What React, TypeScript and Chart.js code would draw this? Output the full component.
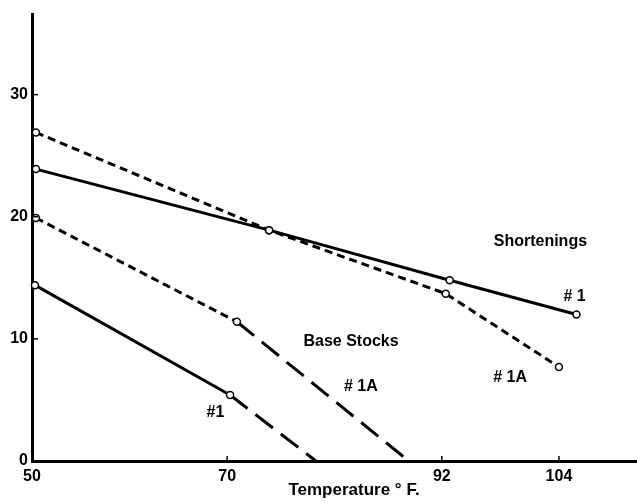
import React, { useEffect, useRef } from "react";
import { Chart, registerables } from "chart.js";

Chart.register(...registerables);

const xTickValues = [50, 70, 92, 104];
const yTickValues = [0, 10, 20, 30];

const shortening1X = [50.4, 74.3, 92.8, 105.8];
const shortening1Y = [23.9, 18.9, 14.8, 12.0];

const shortening1AX = [50.4, 74.3, 92.4, 104.0];
const shortening1AY = [26.9, 18.9, 13.7, 7.7];

const base1AX = [50.4, 71.0, 88.6];
const base1AY = [19.9, 11.4, 0];

const base1X = [50.3, 70.3, 79.1];
const base1Y = [14.4, 5.4, 0];

const annotationTexts = ["Shortenings", "# 1", "# 1A", "Base Stocks", "# 1A", "#1"];
const annotationX = [102.1, 105.6, 99.0, 82.7, 83.7, 68.8];
const annotationY = [17.95, 13.5, 6.8, 9.8, 6.1, 4.0];

const xTitle = "Temperature ° F.";
const xTitleCenter = 83.0;

const FONT = "'Liberation Sans', Arial, sans-serif";

const toPoints = (xs: number[], ys: number[]) => xs.map((x, i) => ({ x, y: ys[i] }));

export default function App() {
  const ref = useRef<HTMLCanvasElement | null>(null);

  useEffect(() => {
    document.body.style.margin = "0";
    if (!ref.current) return;

    const tickMarks = {
      id: "tickMarks",
      afterDraw(chart: any) {
        const { ctx, scales } = chart;
        const xs = scales.x;
        const ys = scales.y;
        ctx.save();
        ctx.strokeStyle = "#000";
        ctx.lineWidth = 1.5;
        xTickValues.forEach((v) => {
          const px = xs.getPixelForValue(v);
          if (v === xTickValues[0]) return;
          ctx.beginPath();
          ctx.moveTo(px, ys.bottom);
          ctx.lineTo(px, ys.bottom - 5);
          ctx.stroke();
        });
        yTickValues.forEach((v) => {
          if (v === 0) return;
          const py = ys.getPixelForValue(v);
          ctx.beginPath();
          ctx.moveTo(xs.left, py);
          ctx.lineTo(xs.left + 6, py);
          ctx.stroke();
        });
        ctx.fillStyle = "#000";
        ctx.font = `bold 16px ${FONT}`;
        ctx.textAlign = "center";
        ctx.textBaseline = "middle";
        annotationTexts.forEach((t, i) => {
          ctx.fillText(t, xs.getPixelForValue(annotationX[i]), ys.getPixelForValue(annotationY[i]));
        });
        ctx.font = `bold 17px ${FONT}`;
        ctx.fillText(xTitle, xs.getPixelForValue(xTitleCenter), xs.bottom - 14);
        ctx.restore();
      },
    };

    const longDash = [22, 10];
    const shortDash = [8, 5];

    const pointStyle = {
      pointBackgroundColor: "#fff",
      pointBorderColor: "#000",
      pointBorderWidth: 1.5,
    };

    const chart = new Chart(ref.current, {
      type: "line",
      data: {
        datasets: [
          {
            label: "Shortenings #1",
            data: toPoints(shortening1X, shortening1Y),
            borderColor: "#000",
            borderWidth: 3,
            pointRadius: 3.5,
            ...pointStyle,
            clip: false,
          } as any,
          {
            label: "Shortenings #1A",
            data: toPoints(shortening1AX, shortening1AY),
            borderColor: "#000",
            borderWidth: 3,
            borderDash: shortDash,
            pointRadius: 3.5,
            ...pointStyle,
            clip: false,
          } as any,
          {
            label: "Base Stocks #1A",
            data: toPoints(base1AX, base1AY),
            borderColor: "#000",
            borderWidth: 3,
            borderDash: shortDash,
            segment: {
              borderDash: (c: any) => (c.p0DataIndex >= 1 ? longDash : shortDash),
            },
            pointRadius: [3.5, 3.5, 0],
            ...pointStyle,
            clip: false,
          } as any,
          {
            label: "Base Stocks #1",
            data: toPoints(base1X, base1Y),
            borderColor: "#000",
            borderWidth: 3,
            segment: {
              borderDash: (c: any) => (c.p0DataIndex >= 1 ? longDash : undefined),
            },
            pointRadius: [3.5, 3.5, 0],
            ...pointStyle,
            clip: false,
          } as any,
        ],
      },
      options: {
        animation: false,
        responsive: true,
        maintainAspectRatio: false,
        layout: { autoPadding: false, padding: { top: 14, right: 0, left: 0, bottom: 0 } },
        plugins: { legend: { display: false }, tooltip: { enabled: false } },
        elements: { line: { tension: 0 } },
        scales: {
          x: {
            type: "linear",
            min: 50,
            max: 112,
            grid: { display: false, drawTicks: false },
            border: { display: true, color: "#000", width: 3 },
            afterBuildTicks: (s: any) => {
              s.ticks = xTickValues.map((v) => ({ value: v }));
            },
            afterFit: (s: any) => {
              s.height = 43;
            },
            ticks: {
              autoSkip: false,
              maxRotation: 0,
              color: "#000",
              padding: 6,
              font: { family: FONT, size: 16, weight: "bold" },
            },
          },
          y: {
            type: "linear",
            min: 0,
            max: 36.6,
            grid: { display: false, drawTicks: false },
            border: { display: true, color: "#000", width: 3 },
            afterBuildTicks: (s: any) => {
              s.ticks = yTickValues.map((v) => ({ value: v }));
            },
            afterFit: (s: any) => {
              s.width = 32;
            },
            ticks: {
              color: "#000",
              padding: 4,
              font: { family: FONT, size: 16, weight: "bold" },
            },
          },
        },
      } as any,
      plugins: [tickMarks],
    });

    return () => chart.destroy();
  }, []);

  return (
    <div style={{ position: "relative", width: 637, height: 504 }}>
      <canvas ref={ref} />
    </div>
  );
}
